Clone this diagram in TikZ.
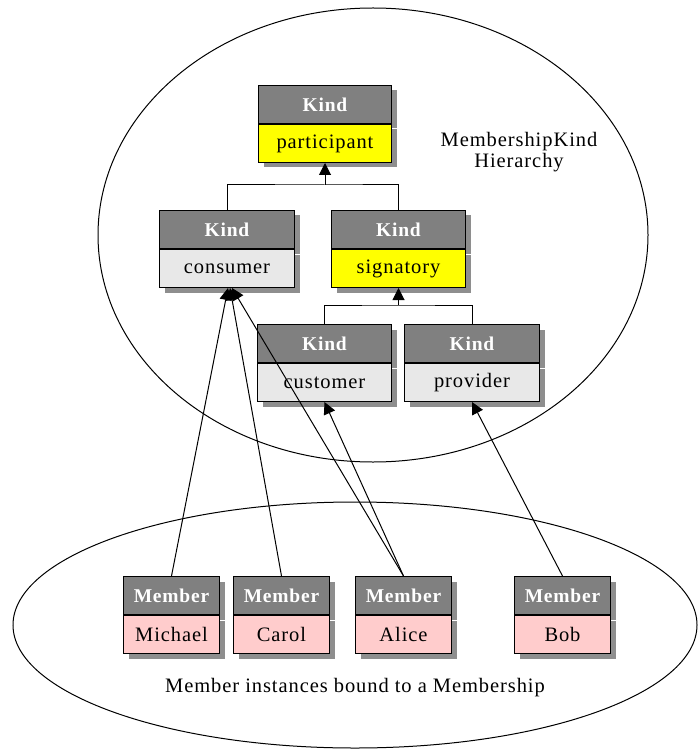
\documentclass[tikz,border=0pt]{standalone}
\usepackage{fontspec}
\setmainfont{Liberation Serif}
\newfontfamily\hdrfont{Liberation Serif}[LetterSpace=4]
\newfontfamily\txtfont{Liberation Serif}[LetterSpace=4.5]
\usetikzlibrary{shadows,arrows.meta}
\definecolor{hdrgray}{HTML}{808080}
\definecolor{shadowgray}{HTML}{8E8E8E}
\definecolor{kindyellow}{HTML}{FFFF00}
\definecolor{kindgray}{HTML}{E8E8E8}
\definecolor{memberpink}{HTML}{FFCCCC}
\begin{document}
\begin{tikzpicture}[x=1pt,y=-1pt,
  boxbase/.style={draw=black, line width=1pt, inner sep=0pt, anchor=north west,
    drop shadow={shadow xshift=5pt, shadow yshift=-5pt, fill=shadowgray, opacity=1, draw=none}},
  hdr/.style={boxbase, fill=hdrgray, text=white, minimum height=38pt,
    font=\hdrfont\fontsize{19.5}{22}\selectfont\bfseries},
  bdy/.style={boxbase, minimum height=38pt, font=\txtfont\fontsize{20.5}{22}\selectfont},
  link/.style={line width=1pt},
  inh/.style={line width=1pt, -{Triangle[length=12pt,width=12pt]}},
  caption/.style={font=\txtfont\fontsize{20.5}{21.5}\selectfont, align=center}
]
\useasboundingbox (0,0) rectangle (698,751);

% the two groupings
\draw[line width=1pt] (373,235) ellipse [x radius=275, y radius=227];
\draw[line width=1pt] (355,625) ellipse [x radius=342, y radius=123];

\newcommand\classbox[7]{%
  \node[hdr, minimum width=#4pt] (#1-h) at (#2,#3) {#5};
  \node[bdy, minimum width=#4pt, fill=#7] (#1) at (#1-h.south west) {#6};
}

% kind hierarchy
\classbox{participant}{258}{85}{133}{Kind}{participant}{kindyellow}
\classbox{consumer}{159}{210}{135}{Kind}{consumer}{kindgray}
\classbox{signatory}{331}{210}{134}{Kind}{signatory}{kindyellow}
\classbox{customer}{257}{324}{134}{Kind}{customer}{kindgray}
\classbox{provider}{404}{324}{135}{Kind}{provider}{kindgray}

% member instances
\classbox{michael}{123}{576}{96}{Member}{Michael}{memberpink}
\classbox{carol}{233}{576}{96}{Member}{Carol}{memberpink}
\classbox{alice}{355}{576}{96}{Member}{Alice}{memberpink}
\classbox{bob}{514}{576}{96}{Member}{Bob}{memberpink}

% generalisation trees
\coordinate (j1) at (participant.south |- 0,185);
\draw[link] (consumer-h.north) |- (j1) -| (signatory-h.north);
\draw[inh] (j1) -- (participant.south);
\coordinate (j2) at (signatory.south |- 0,305);
\draw[link] (customer-h.north) |- (j2) -| (provider-h.north);
\draw[inh] (j2) -- (signatory.south);

% instance-of links
\draw[inh] (michael-h.north) -- ([xshift=1pt]consumer.south);
\draw[inh] (carol-h.north) -- ([xshift=3pt]consumer.south);
\draw[inh] (alice-h.north) -- ([xshift=5pt]consumer.south);
\draw[inh] (alice-h.north) -- (customer.south);
\draw[inh] (bob-h.north) -- (provider.south);

% captions
\node[caption] (hier) at (519,152) {MembershipKind\\Hierarchy};
\node[caption] (inst) at (355,688) {Member instances bound to a Membership};
\end{tikzpicture}
\end{document}
